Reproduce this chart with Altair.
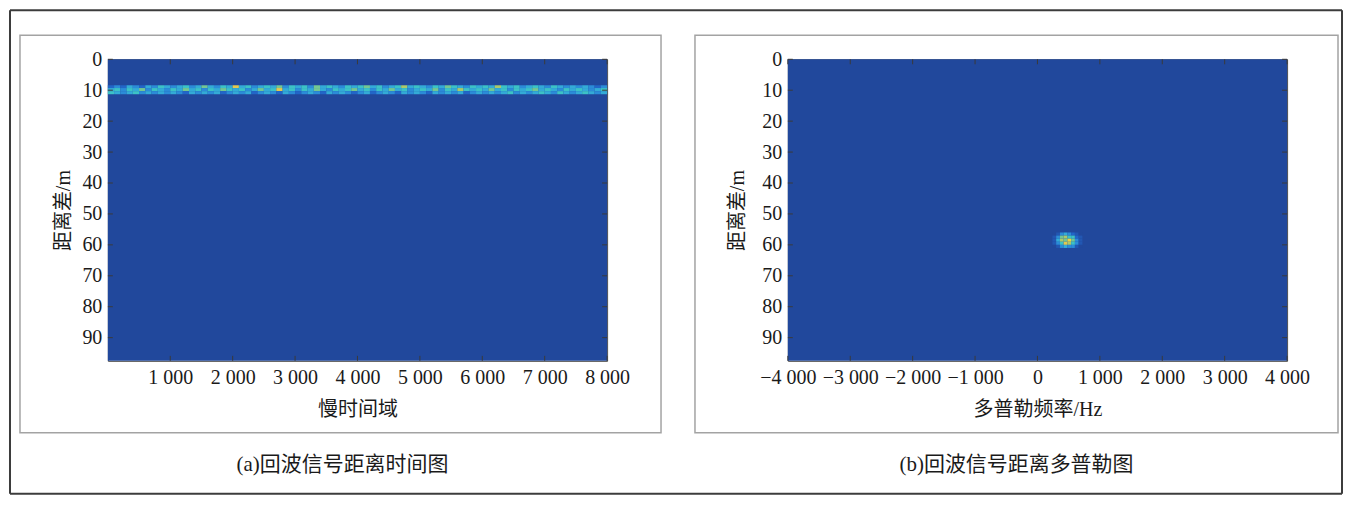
import altair as alt
import pandas as pd

FONT = "Liberation Serif, Noto Sans CJK SC, serif"
TEXT = "#1a1a1a"

# ---------------- data ----------------
y_domain = [0, 97.5]
y_ticks = [0, 10, 20, 30, 40, 50, 60, 70, 80, 90]

# panel (a): range vs slow time
a_x_domain = [0, 8000]
a_x_ticks = [1000, 2000, 3000, 4000, 5000, 6000, 7000, 8000]
a_col_width = 100  # slow-time units per column
a_rows = [[8.4, 9.3], [9.3, 10.3], [10.3, 11.3]]
band_top = [2, 3, 2, 4, 3, 2, 4, 3, 5, 4,
            3, 4, 5, 3, 4, 6, 4, 3, 5, 4,
            8, 4, 5, 3, 4, 5, 4, 6, 3, 5,
            4, 5, 3, 6, 4, 5, 4, 3, 5, 4,
            5, 6, 4, 5, 3, 4, 5, 7, 4, 5,
            4, 3, 5, 4, 6, 5, 4, 3, 5, 4,
            5, 4, 7, 5, 4, 5, 3, 4, 5, 4,
            3, 5, 4, 3, 4, 3, 4, 3, 2, 3]
band_mid = [4, 5, 3, 5, 4, 6, 3, 5, 4, 3,
            5, 4, 6, 4, 5, 3, 5, 4, 6, 5,
            4, 5, 3, 4, 6, 4, 5, 8, 4, 5,
            3, 5, 4, 6, 4, 3, 5, 4, 5, 6,
            4, 5, 3, 5, 4, 6, 4, 5, 3, 4,
            5, 4, 6, 3, 5, 4, 7, 5, 4, 5,
            4, 6, 4, 5, 3, 5, 4, 5, 6, 4,
            5, 4, 3, 5, 4, 5, 4, 3, 4, 5]
band_bot = [5, 4, 3, 4, 5, 3, 4, 3, 4, 3,
            4, 3, 2, 4, 3, 4, 3, 4, 2, 3,
            4, 3, 4, 2, 3, 4, 3, 2, 4, 3,
            2, 3, 4, 3, 2, 4, 3, 4, 3, 2,
            3, 4, 2, 3, 4, 3, 2, 4, 3, 4,
            3, 2, 4, 3, 4, 3, 4, 2, 3, 4,
            3, 4, 3, 4, 5, 3, 4, 3, 4, 5,
            4, 3, 5, 4, 3, 4, 5, 4, 3, 4]

# panel (b): range vs Doppler
b_x_domain = [-4000, 4000]
b_x_ticks = [-4000, -3000, -2000, -1000, 0, 1000, 2000, 3000, 4000]
blob_x_edges = [240, 300, 360, 420, 480, 540, 600, 660, 720]
blob_y_edges = [56.0, 57.0, 58.0, 59.0, 60.0, 61.0]
blob = [[0, 1, 3, 4, 3, 2, 1, 0],
        [1, 3, 6, 7, 5, 5, 2, 1],
        [1, 4, 7, 6, 9, 6, 3, 1],
        [1, 3, 5, 8, 7, 5, 3, 1],
        [0, 1, 3, 4, 3, 3, 1, 0]]

# colour map (parula-like as printed)
c_domain = [0, 0.2, 0.35, 0.5, 0.65, 0.8, 1.0]
c_range = ["#21489c", "#2266c8", "#2f9fe0", "#3cc2c6", "#8fc97a", "#e4c94e", "#f8e22e"]

# ---------------- tables ----------------
rows_a = [{"x": a_x_domain[0], "x2": a_x_domain[1], "y": y_domain[0], "y2": y_domain[1], "v": 0.0}]
for (y0, y1), vals in zip(a_rows, [band_top, band_mid, band_bot]):
    for i, d in enumerate(vals):
        rows_a.append({"x": i * a_col_width, "x2": (i + 1) * a_col_width,
                       "y": y0, "y2": y1, "v": d / 10})
df_a = pd.DataFrame(rows_a)

rows_b = [{"x": b_x_domain[0], "x2": b_x_domain[1], "y": y_domain[0], "y2": y_domain[1], "v": 0.0}]
for r, vals in enumerate(blob):
    for c, d in enumerate(vals):
        rows_b.append({"x": blob_x_edges[c], "x2": blob_x_edges[c + 1],
                       "y": blob_y_edges[r], "y2": blob_y_edges[r + 1], "v": d / 10})
df_b = pd.DataFrame(rows_b)

W, H = 500, 302
cscale = alt.Scale(domain=c_domain, range=c_range, interpolate="rgb")
one = alt.Data(values=[{}])


def hrule(x0, x1, y, color, sw):
    return alt.Chart(one).mark_rule(color=color, strokeWidth=sw).encode(
        x=alt.value(x0), x2=alt.value(x1), y=alt.value(y))


def vrule(x, y0, y1, color, sw):
    return alt.Chart(one).mark_rule(color=color, strokeWidth=sw).encode(
        x=alt.value(x), y=alt.value(y0), y2=alt.value(y1))


def panel(df, xdom, xticks, xtitle, caption, box, ytp, cap_x, outer=None):
    xs = alt.Scale(domain=xdom, nice=False, zero=False)
    ys = alt.Scale(domain=y_domain, reverse=True, nice=False, zero=False)
    xaxis = alt.Axis(values=xticks, title=xtitle, labelPadding=7, titlePadding=12,
                     labelOverlap=False, labelFlush=False, labelBound=False,
                     labelExpr="replace(format(datum.value, ','), ',', ' ')")
    yaxis = alt.Axis(values=y_ticks, title="距离差/m", labelPadding=6, titlePadding=ytp,
                     labelOverlap=False, labelFlush=False)
    heat = alt.Chart(df).mark_rect(strokeWidth=0).encode(
        x=alt.X("x:Q", scale=xs, axis=xaxis),
        x2="x2:Q",
        y=alt.Y("y:Q", scale=ys, axis=yaxis),
        y2="y2:Q",
        color=alt.Color("v:Q", scale=cscale, legend=None),
    )
    tx = pd.DataFrame({"x": xticks})
    ty = pd.DataFrame({"y": y_ticks})
    tick_c = "#3a3a3a"
    xt_top = alt.Chart(tx).mark_rule(color=tick_c).encode(
        x=alt.X("x:Q", scale=xs, axis=xaxis), y=alt.value(0), y2=alt.value(5))
    xt_bot = alt.Chart(tx).mark_rule(color=tick_c).encode(
        x=alt.X("x:Q", scale=xs, axis=xaxis), y=alt.value(H - 5), y2=alt.value(H))
    yt_l = alt.Chart(ty).mark_rule(color=tick_c).encode(
        y=alt.Y("y:Q", scale=ys, axis=yaxis), x=alt.value(0), x2=alt.value(5))
    yt_r = alt.Chart(ty).mark_rule(color=tick_c).encode(
        y=alt.Y("y:Q", scale=ys, axis=yaxis), x=alt.value(W - 5), x2=alt.value(W))
    bx0, bx1, by0, by1 = box
    frame = alt.Chart(one).mark_rect(fillOpacity=0, stroke="#a3a3a3", strokeWidth=1.5).encode(
        x=alt.value(bx0), x2=alt.value(bx1), y=alt.value(by0), y2=alt.value(by1))
    layers = [heat, xt_top, xt_bot, yt_l, yt_r, frame]
    if outer is not None:
        ox0, ox1, oy0, oy1 = outer
        oc, ow = "#3c3c3c", 2
        layers += [hrule(ox0, ox1, oy0, oc, ow), hrule(ox0, ox1, oy1, oc, ow),
                   vrule(ox0, oy0, oy1, oc, ow), vrule(ox1, oy0, oy1, oc, ow)]
    cap = alt.Chart(one).mark_text(font=FONT, fontSize=21, color=TEXT,
                                   align="center", baseline="middle").encode(
        x=alt.value(cap_x), y=alt.value(406), text=alt.value(caption))
    layers.append(cap)
    return alt.layer(*layers).properties(width=W, height=H)


pa = panel(df_a, a_x_domain, a_x_ticks, "慢时间域", "(a)回波信号距离时间图",
           box=(-88, 554, -24, 374), ytp=8, cap_x=235, outer=(-98, 1236, -49, 435))
pb = panel(df_b, b_x_domain, b_x_ticks, "多普勒频率/Hz", "(b)回波信号距离多普勒图",
           box=(-93, 551, -24, 374), ytp=14, cap_x=229)

chart = alt.hconcat(pa, pb, spacing=181, bounds="flush").properties(padding=0).configure_view(
    stroke="#4a4a4a", strokeWidth=1
).configure_axis(
    labelFont=FONT, labelFontSize=20, labelColor=TEXT,
    titleFont=FONT, titleFontSize=20, titleFontWeight="normal", titleColor=TEXT,
    ticks=False, domain=False, grid=False,
)

chart.save("out.html", embed_options={"renderer": "svg", "actions": False})
